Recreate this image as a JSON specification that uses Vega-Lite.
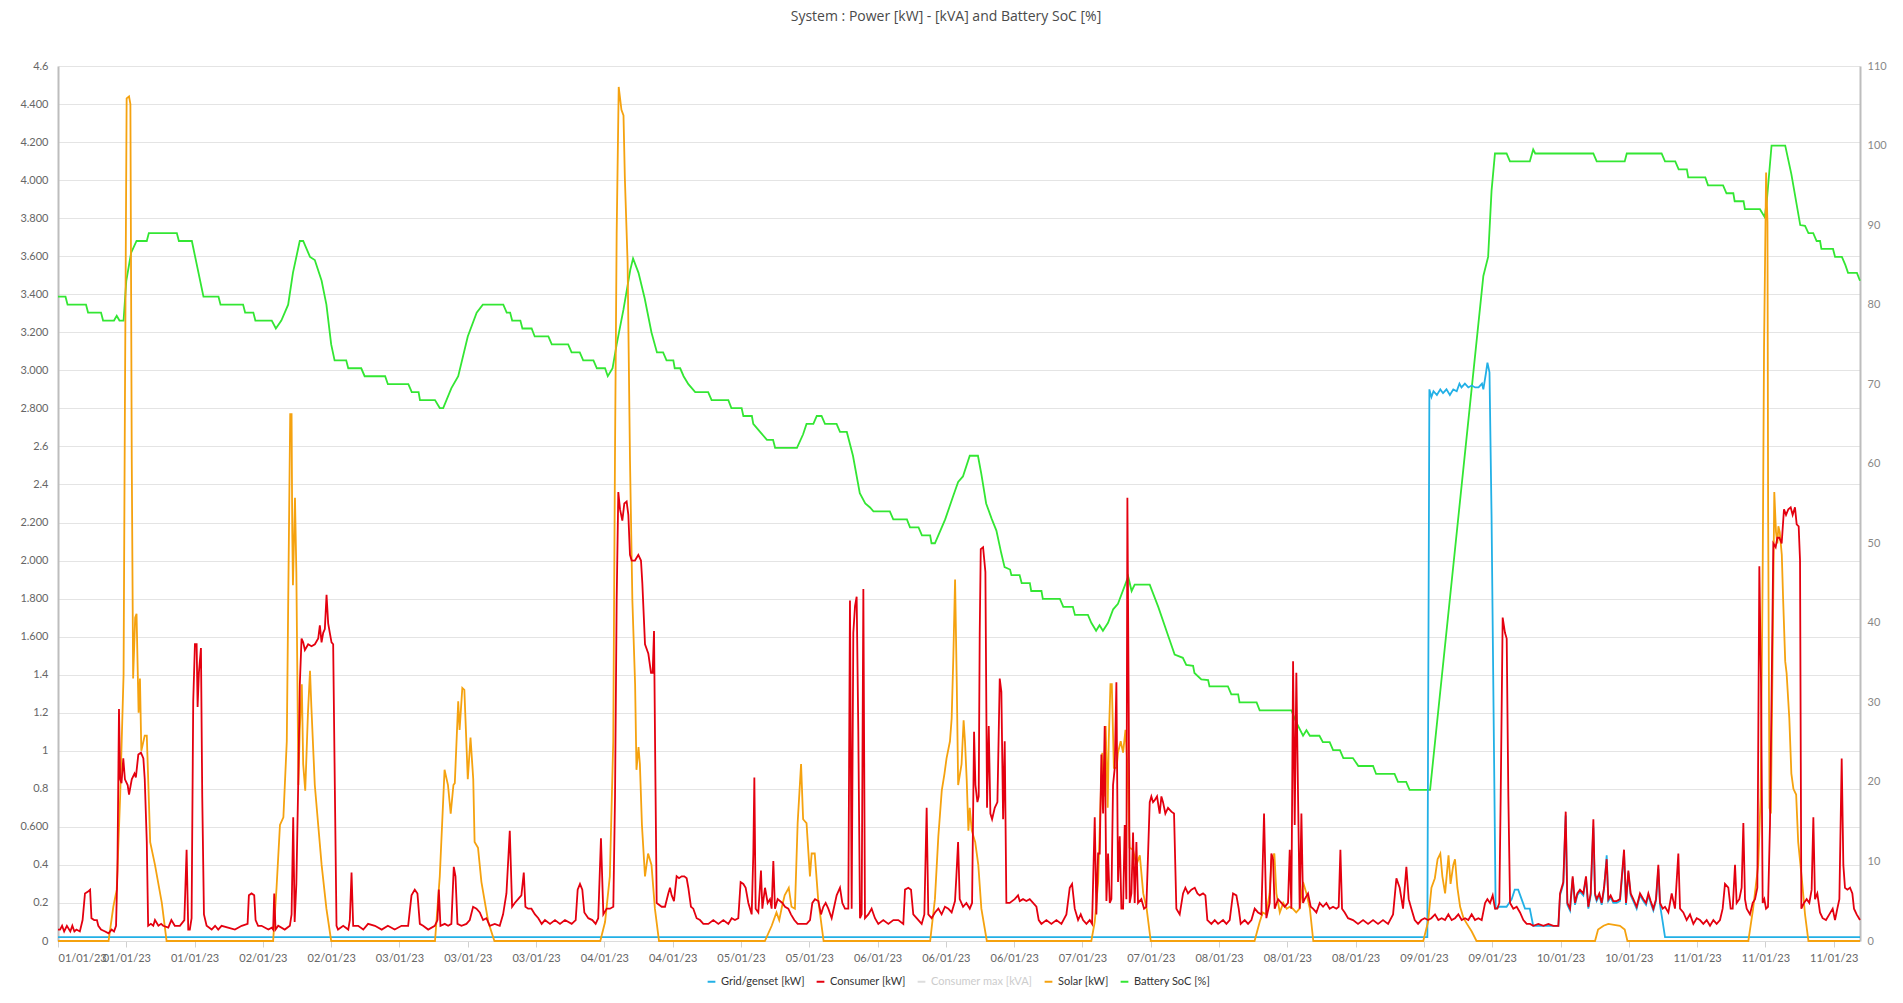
{
  "$schema": "https://vega.github.io/schema/vega-lite/v6.json",
  "width": 1802,
  "height": 875,
  "autosize": {"type": "none"},
  "padding": {"left": 58, "top": 66, "right": 43, "bottom": 62},
  "background": "white",
  "title": {
    "text": "System : Power [kW] - [kVA] and Battery SoC [%]",
    "font": "Open Sans",
    "fontSize": 14,
    "fontWeight": "normal",
    "color": "#4a4a4a",
    "anchor": "middle",
    "frame": "group",
    "baseline": "alphabetic",
    "offset": 25,
    "dx": -13
  },
  "config": {
    "view": {"stroke": null},
    "axis": {"labelFont": "Lato", "labelFontSize": 11, "labelColor": "#666666", "title": null}
  },
  "datasets": {
    "soc": [
      {"t":0,"v":81},{"t":1.1,"v":81},{"t":1.4,"v":80},{"t":4.1,"v":80},{"t":4.4,"v":79},{"t":6.3,"v":79},{"t":6.6,"v":78},{"t":8.2,"v":78},{"t":8.6,"v":78.6},{"t":9.0,"v":78},{"t":9.6,"v":78},{"t":10.0,"v":83},{"t":10.7,"v":86.5},{"t":11.5,"v":88},{"t":13.0,"v":88},{"t":13.3,"v":89},{"t":17.4,"v":89},{"t":17.7,"v":88},{"t":19.6,"v":88},{"t":21.3,"v":81},{"t":23.5,"v":81},{"t":23.8,"v":80},{"t":27.1,"v":80},{"t":27.4,"v":79},{"t":28.6,"v":79},{"t":28.9,"v":78},{"t":31.3,"v":78},{"t":31.9,"v":77},{"t":32.7,"v":78},{"t":33.7,"v":80},{"t":34.4,"v":84},{"t":35.4,"v":88},{"t":35.9,"v":88},{"t":36.9,"v":86},{"t":37.6,"v":85.6},{"t":38.6,"v":83},{"t":39.3,"v":80},{"t":40.0,"v":75},{"t":40.5,"v":73},{"t":42.2,"v":73},{"t":42.5,"v":72},{"t":44.4,"v":72},{"t":44.9,"v":71},{"t":47.9,"v":71},{"t":48.3,"v":70},{"t":51.3,"v":70},{"t":51.8,"v":69},{"t":52.8,"v":69},{"t":53.0,"v":68},{"t":55.2,"v":68},{"t":55.9,"v":67},{"t":56.4,"v":67},{"t":57.6,"v":69.5},{"t":58.6,"v":71},{"t":60.0,"v":76},{"t":61.3,"v":79},{"t":62.2,"v":80},{"t":65.2,"v":80},{"t":65.7,"v":79},{"t":66.2,"v":79},{"t":66.5,"v":78},{"t":67.7,"v":78},{"t":68.0,"v":77},{"t":69.35,"v":77},{"t":69.8,"v":76},{"t":71.8,"v":76},{"t":72.3,"v":75},{"t":74.7,"v":75},{"t":75.2,"v":74},{"t":76.4,"v":74},{"t":76.9,"v":73},{"t":78.4,"v":73},{"t":78.9,"v":72},{"t":80.1,"v":72},{"t":80.5,"v":71},{"t":81.2,"v":72},{"t":81.8,"v":75},{"t":82.8,"v":79.4},{"t":83.8,"v":84.4},{"t":84.2,"v":85.8},{"t":85.0,"v":84},{"t":85.9,"v":80.8},{"t":86.9,"v":76.5},{"t":87.7,"v":74},{"t":88.6,"v":74},{"t":89.1,"v":73},{"t":90.1,"v":73},{"t":90.3,"v":72},{"t":91.1,"v":72},{"t":91.6,"v":71},{"t":92.3,"v":70},{"t":93.3,"v":69},{"t":95.2,"v":69},{"t":95.7,"v":68},{"t":98.15,"v":68},{"t":98.6,"v":67},{"t":100.1,"v":67},{"t":100.35,"v":66},{"t":101.6,"v":66},{"t":101.8,"v":65},{"t":102.8,"v":64},{"t":103.8,"v":63},{"t":104.7,"v":63},{"t":105.0,"v":62},{"t":108.2,"v":62},{"t":109.1,"v":63.7},{"t":109.6,"v":65},{"t":110.6,"v":65},{"t":111.1,"v":66},{"t":111.8,"v":66},{"t":112.3,"v":65},{"t":114.0,"v":65},{"t":114.5,"v":64},{"t":115.5,"v":64},{"t":116.4,"v":61},{"t":117.4,"v":56.3},{"t":118.2,"v":55},{"t":118.9,"v":54.5},{"t":119.4,"v":54},{"t":121.8,"v":54},{"t":122.3,"v":53},{"t":124.3,"v":53},{"t":124.75,"v":52},{"t":126.0,"v":52},{"t":126.5,"v":51},{"t":127.7,"v":51},{"t":127.9,"v":50},{"t":128.4,"v":50},{"t":128.9,"v":51},{"t":129.9,"v":53},{"t":131.1,"v":56},{"t":131.8,"v":57.7},{"t":132.5,"v":58.4},{"t":133.5,"v":61},{"t":134.7,"v":61},{"t":135.2,"v":58.7},{"t":135.9,"v":55},{"t":136.7,"v":53.1},{"t":137.4,"v":51.6},{"t":138.1,"v":48.8},{"t":138.6,"v":47},{"t":139.4,"v":46.7},{"t":139.6,"v":46},{"t":140.8,"v":46},{"t":141.1,"v":45},{"t":142.3,"v":45},{"t":142.5,"v":44},{"t":144.0,"v":44},{"t":144.2,"v":43},{"t":146.7,"v":43},{"t":147.2,"v":42},{"t":148.6,"v":42},{"t":148.9,"v":41},{"t":150.8,"v":41},{"t":151.3,"v":40},{"t":152.0,"v":39},{"t":152.5,"v":39.7},{"t":153.0,"v":39},{"t":153.75,"v":40},{"t":154.5,"v":41.7},{"t":155.2,"v":42.4},{"t":156.7,"v":45.8},{"t":157.2,"v":44},{"t":157.65,"v":44.8},{"t":159.85,"v":44.8},{"t":161.1,"v":42},{"t":162.5,"v":38.5},{"t":163.5,"v":36},{"t":164.7,"v":35.6},{"t":165.2,"v":34.7},{"t":166.2,"v":34.6},{"t":166.4,"v":33.7},{"t":167.4,"v":32.9},{"t":168.4,"v":32.8},{"t":168.6,"v":32},{"t":171.3,"v":32},{"t":171.8,"v":31},{"t":172.8,"v":31},{"t":173.0,"v":30},{"t":175.5,"v":30},{"t":175.95,"v":29},{"t":180.6,"v":29},{"t":181.3,"v":27.5},{"t":182.3,"v":25.8},{"t":182.8,"v":26.5},{"t":183.3,"v":25.8},{"t":184.7,"v":25.8},{"t":185.2,"v":25},{"t":186.2,"v":25},{"t":186.7,"v":24},{"t":187.7,"v":24},{"t":188.2,"v":23},{"t":189.6,"v":23},{"t":190.4,"v":22},{"t":192.55,"v":22},{"t":193.0,"v":21},{"t":195.7,"v":21},{"t":196.2,"v":20},{"t":197.4,"v":20},{"t":197.9,"v":19},{"t":200.9,"v":19},{"t":208.7,"v":83.6},{"t":209.4,"v":86},{"t":209.9,"v":94.3},{"t":210.4,"v":99},{"t":212.1,"v":99},{"t":212.6,"v":98},{"t":215.5,"v":98},{"t":216.0,"v":99.5},{"t":216.3,"v":99},{"t":224.8,"v":99},{"t":225.3,"v":98},{"t":229.4,"v":98},{"t":229.7,"v":99},{"t":234.8,"v":99},{"t":235.3,"v":98},{"t":236.8,"v":98},{"t":237.3,"v":97},{"t":238.5,"v":97},{"t":238.7,"v":96},{"t":241.2,"v":96},{"t":241.6,"v":95},{"t":243.8,"v":95},{"t":244.3,"v":94},{"t":245.3,"v":94},{"t":245.5,"v":93},{"t":246.8,"v":93},{"t":247.0,"v":92},{"t":249.2,"v":92},{"t":249.9,"v":91},{"t":250.2,"v":93},{"t":250.9,"v":100},{"t":252.9,"v":100},{"t":253.8,"v":96.4},{"t":255.1,"v":90},{"t":255.8,"v":89.9},{"t":256.3,"v":89},{"t":257.0,"v":89},{"t":257.5,"v":88},{"t":258.0,"v":88},{"t":258.2,"v":87},{"t":259.9,"v":87},{"t":260.2,"v":86},{"t":261.2,"v":86},{"t":261.7,"v":85},{"t":262.1,"v":84},{"t":263.4,"v":84},{"t":263.85,"v":83}
    ],
    "grid": [
      {"t":0,"v":0.02},{"t":200.5,"v":0.02},{"t":200.8,"v":2.9},{"t":201.1,"v":2.86},{"t":201.4,"v":2.89},{"t":201.9,"v":2.87},{"t":202.4,"v":2.9},{"t":202.8,"v":2.88},{"t":203.3,"v":2.9},{"t":203.8,"v":2.87},{"t":204.3,"v":2.9},{"t":204.8,"v":2.89},{"t":205.2,"v":2.93},{"t":205.5,"v":2.91},{"t":206.0,"v":2.93},{"t":206.5,"v":2.91},{"t":207.0,"v":2.92},{"t":207.5,"v":2.91},{"t":208.0,"v":2.91},{"t":208.5,"v":2.93},{"t":208.7,"v":2.9},{"t":209.1,"v":2.99},{"t":209.3,"v":3.04},{"t":209.6,"v":2.99},{"t":209.9,"v":2.24},{"t":210.2,"v":1.2},{"t":210.5,"v":0.17},{"t":211.1,"v":0.18},{"t":212.1,"v":0.18},{"t":212.85,"v":0.22},{"t":213.3,"v":0.27},{"t":213.8,"v":0.27},{"t":214.3,"v":0.22},{"t":214.8,"v":0.17},{"t":215.5,"v":0.17},{"t":216.0,"v":0.08},{"t":219.7,"v":0.08},{"t":219.93,"v":0.24},{"t":220.41,"v":0.3},{"t":220.76,"v":0.66},{"t":221.0,"v":0.19},{"t":221.39,"v":0.16},{"t":221.78,"v":0.33},{"t":222.12,"v":0.19},{"t":222.46,"v":0.24},{"t":222.85,"v":0.26},{"t":223.34,"v":0.24},{"t":223.73,"v":0.33},{"t":224.07,"v":0.17},{"t":224.42,"v":0.24},{"t":224.81,"v":0.6},{"t":225.05,"v":0.24},{"t":225.29,"v":0.21},{"t":225.68,"v":0.24},{"t":226.03,"v":0.19},{"t":226.37,"v":0.27},{"t":226.76,"v":0.45},{"t":227.0,"v":0.21},{"t":227.34,"v":0.23},{"t":227.73,"v":0.2},{"t":228.22,"v":0.2},{"t":228.71,"v":0.21},{"t":229.3,"v":0.46},{"t":229.59,"v":0.19},{"t":229.93,"v":0.36},{"t":230.27,"v":0.24},{"t":230.66,"v":0.21},{"t":231.15,"v":0.17},{"t":231.64,"v":0.24},{"t":232.13,"v":0.21},{"t":232.52,"v":0.19},{"t":232.86,"v":0.24},{"t":233.2,"v":0.2},{"t":233.59,"v":0.16},{"t":233.98,"v":0.21},{"t":234.32,"v":0.38},{"t":234.57,"v":0.19},{"t":234.96,"v":0.1},{"t":235.3,"v":0.02},{"t":263.85,"v":0.02}
    ],
    "solar": [
      {"t":0,"v":0},{"t":7.4,"v":0},{"t":8.1,"v":0.18},{"t":8.6,"v":0.27},{"t":9.1,"v":0.76},{"t":9.6,"v":1.4},{"t":9.8,"v":2.83},{"t":10.05,"v":4.43},{"t":10.4,"v":4.44},{"t":10.6,"v":4.4},{"t":10.8,"v":2.53},{"t":11.0,"v":1.38},{"t":11.3,"v":1.7},{"t":11.5,"v":1.72},{"t":11.8,"v":1.2},{"t":12.0,"v":1.38},{"t":12.2,"v":1.0},{"t":12.7,"v":1.08},{"t":13.0,"v":1.08},{"t":13.5,"v":0.52},{"t":14.2,"v":0.4},{"t":15.2,"v":0.2},{"t":15.9,"v":0},{"t":31.5,"v":0},{"t":32.0,"v":0.28},{"t":32.5,"v":0.61},{"t":33.0,"v":0.65},{"t":33.5,"v":1.05},{"t":33.7,"v":1.76},{"t":34.0,"v":2.77},{"t":34.2,"v":2.77},{"t":34.3,"v":2.15},{"t":34.4,"v":1.87},{"t":34.7,"v":2.33},{"t":34.9,"v":1.94},{"t":35.2,"v":0.82},{"t":35.4,"v":1.11},{"t":35.7,"v":1.35},{"t":35.9,"v":0.93},{"t":36.2,"v":0.79},{"t":36.6,"v":1.2},{"t":36.9,"v":1.42},{"t":37.1,"v":1.23},{"t":37.6,"v":0.82},{"t":38.1,"v":0.61},{"t":38.6,"v":0.4},{"t":39.3,"v":0.17},{"t":40.0,"v":0},{"t":55.2,"v":0},{"t":55.9,"v":0.34},{"t":56.6,"v":0.9},{"t":57.1,"v":0.82},{"t":57.5,"v":0.67},{"t":57.9,"v":0.82},{"t":58.1,"v":0.83},{"t":58.6,"v":1.26},{"t":58.8,"v":1.11},{"t":59.2,"v":1.33},{"t":59.5,"v":1.32},{"t":60.0,"v":0.85},{"t":60.4,"v":1.07},{"t":60.8,"v":0.85},{"t":61.0,"v":0.52},{"t":61.5,"v":0.49},{"t":62.0,"v":0.31},{"t":63.0,"v":0.1},{"t":63.9,"v":0},{"t":79.4,"v":0},{"t":80.1,"v":0.1},{"t":80.8,"v":0.34},{"t":81.3,"v":1.05},{"t":81.55,"v":2.53},{"t":81.8,"v":3.72},{"t":82.1,"v":4.49},{"t":82.5,"v":4.37},{"t":82.8,"v":4.34},{"t":83.0,"v":4.01},{"t":83.4,"v":3.57},{"t":83.75,"v":2.53},{"t":84.1,"v":1.79},{"t":84.5,"v":1.35},{"t":84.7,"v":0.9},{"t":85.0,"v":1.02},{"t":85.2,"v":0.93},{"t":85.5,"v":0.61},{"t":85.95,"v":0.34},{"t":86.4,"v":0.46},{"t":86.9,"v":0.4},{"t":87.4,"v":0.17},{"t":88.0,"v":0},{"t":103.5,"v":0},{"t":104.5,"v":0.08},{"t":105.2,"v":0.15},{"t":105.6,"v":0.11},{"t":106.0,"v":0.18},{"t":106.4,"v":0.24},{"t":107.0,"v":0.28},{"t":107.4,"v":0.18},{"t":107.9,"v":0.17},{"t":108.3,"v":0.62},{"t":108.8,"v":0.93},{"t":109.1,"v":0.64},{"t":109.6,"v":0.62},{"t":110.1,"v":0.34},{"t":110.35,"v":0.46},{"t":110.8,"v":0.46},{"t":111.3,"v":0.22},{"t":112.1,"v":0},{"t":127.7,"v":0},{"t":128.4,"v":0.22},{"t":128.9,"v":0.55},{"t":129.4,"v":0.79},{"t":129.8,"v":0.88},{"t":130.1,"v":0.96},{"t":130.6,"v":1.05},{"t":130.85,"v":1.17},{"t":131.1,"v":1.5},{"t":131.35,"v":1.9},{"t":131.6,"v":1.35},{"t":131.8,"v":0.82},{"t":132.3,"v":0.93},{"t":132.6,"v":1.16},{"t":132.8,"v":1.05},{"t":133.05,"v":0.85},{"t":133.3,"v":0.58},{"t":133.5,"v":0.7},{"t":133.8,"v":0.58},{"t":134.3,"v":0.52},{"t":134.75,"v":0.4},{"t":135.2,"v":0.17},{"t":136.0,"v":0},{"t":151.3,"v":0},{"t":151.8,"v":0.1},{"t":152.3,"v":0.31},{"t":152.7,"v":0.79},{"t":152.9,"v":0.99},{"t":153.2,"v":0.76},{"t":153.4,"v":1.13},{"t":153.7,"v":0.7},{"t":153.85,"v":1.05},{"t":154.1,"v":1.35},{"t":154.3,"v":1.35},{"t":154.6,"v":0.91},{"t":155.0,"v":0.91},{"t":155.2,"v":0.99},{"t":155.6,"v":1.05},{"t":155.95,"v":0.99},{"t":156.3,"v":1.11},{"t":156.6,"v":0.91},{"t":156.9,"v":0.49},{"t":157.4,"v":0.48},{"t":157.9,"v":0.4},{"t":158.4,"v":0.45},{"t":158.9,"v":0.25},{"t":159.4,"v":0.17},{"t":160.0,"v":0},{"t":175.2,"v":0},{"t":175.95,"v":0.1},{"t":176.4,"v":0.15},{"t":176.9,"v":0.14},{"t":177.4,"v":0.25},{"t":177.7,"v":0.43},{"t":178.1,"v":0.46},{"t":178.4,"v":0.25},{"t":178.9,"v":0.15},{"t":179.4,"v":0.2},{"t":179.9,"v":0.17},{"t":180.35,"v":0.18},{"t":180.8,"v":0.17},{"t":181.3,"v":0.15},{"t":181.8,"v":0.17},{"t":182.3,"v":0.31},{"t":182.8,"v":0.25},{"t":183.3,"v":0.17},{"t":183.8,"v":0},{"t":199.9,"v":0},{"t":200.6,"v":0.1},{"t":201.1,"v":0.28},{"t":201.6,"v":0.33},{"t":202.0,"v":0.43},{"t":202.4,"v":0.46},{"t":202.7,"v":0.34},{"t":203.1,"v":0.25},{"t":203.6,"v":0.45},{"t":203.9,"v":0.3},{"t":204.3,"v":0.4},{"t":204.55,"v":0.43},{"t":204.9,"v":0.28},{"t":205.3,"v":0.18},{"t":205.8,"v":0.12},{"t":206.3,"v":0.09},{"t":207.0,"v":0.05},{"t":207.7,"v":0},{"t":225.05,"v":0},{"t":225.5,"v":0.06},{"t":226.3,"v":0.08},{"t":227.0,"v":0.09},{"t":228.7,"v":0.08},{"t":229.4,"v":0.06},{"t":229.8,"v":0},{"t":247.5,"v":0},{"t":248.2,"v":0.17},{"t":248.95,"v":0.4},{"t":249.3,"v":0.76},{"t":249.6,"v":1.94},{"t":249.8,"v":3.12},{"t":250.1,"v":4.04},{"t":250.3,"v":3.78},{"t":250.4,"v":2.24},{"t":250.6,"v":0.7},{"t":250.8,"v":0.67},{"t":251.1,"v":1.64},{"t":251.3,"v":2.36},{"t":251.55,"v":2.15},{"t":251.75,"v":2.09},{"t":251.9,"v":2.18},{"t":252.1,"v":2.15},{"t":252.4,"v":2.03},{"t":252.6,"v":1.79},{"t":252.9,"v":1.47},{"t":253.1,"v":1.41},{"t":253.5,"v":1.17},{"t":253.8,"v":0.88},{"t":254.1,"v":0.8},{"t":254.5,"v":0.77},{"t":254.8,"v":0.52},{"t":255.3,"v":0.34},{"t":255.8,"v":0.14},{"t":256.3,"v":0},{"t":263.85,"v":0}
    ],
    "cons": [
      {"t":0,"v":0.06},{"t":0.3,"v":0.06},{"t":0.6,"v":0.08},{"t":0.9,"v":0.05},{"t":1.3,"v":0.08},{"t":1.8,"v":0.05},{"t":2.1,"v":0.08},{"t":2.4,"v":0.05},{"t":2.7,"v":0.06},{"t":3.2,"v":0.05},{"t":3.6,"v":0.11},{"t":3.95,"v":0.25},{"t":4.4,"v":0.26},{"t":4.7,"v":0.27},{"t":4.9,"v":0.12},{"t":5.3,"v":0.11},{"t":5.7,"v":0.11},{"t":5.9,"v":0.08},{"t":6.3,"v":0.06},{"t":6.9,"v":0.05},{"t":7.4,"v":0.04},{"t":7.85,"v":0.06},{"t":8.2,"v":0.05},{"t":8.5,"v":0.08},{"t":8.7,"v":0.37},{"t":8.93,"v":1.22},{"t":9.1,"v":0.85},{"t":9.3,"v":0.83},{"t":9.56,"v":0.96},{"t":9.8,"v":0.85},{"t":10.2,"v":0.82},{"t":10.4,"v":0.77},{"t":10.8,"v":0.85},{"t":11.2,"v":0.88},{"t":11.4,"v":0.86},{"t":11.76,"v":0.98},{"t":12.15,"v":0.99},{"t":12.5,"v":0.96},{"t":12.7,"v":0.85},{"t":13.0,"v":0.52},{"t":13.2,"v":0.08},{"t":13.6,"v":0.09},{"t":13.95,"v":0.08},{"t":14.2,"v":0.11},{"t":14.7,"v":0.08},{"t":15.1,"v":0.09},{"t":15.4,"v":0.08},{"t":16.15,"v":0.07},{"t":16.6,"v":0.11},{"t":17.1,"v":0.08},{"t":17.85,"v":0.08},{"t":18.5,"v":0.11},{"t":18.83,"v":0.48},{"t":19.07,"v":0.06},{"t":19.3,"v":0.06},{"t":19.56,"v":0.12},{"t":19.8,"v":1.26},{"t":20.05,"v":1.56},{"t":20.3,"v":1.56},{"t":20.44,"v":1.23},{"t":20.63,"v":1.41},{"t":20.93,"v":1.54},{"t":21.12,"v":0.76},{"t":21.37,"v":0.14},{"t":21.76,"v":0.08},{"t":22.5,"v":0.06},{"t":23.0,"v":0.08},{"t":23.46,"v":0.06},{"t":23.95,"v":0.08},{"t":24.9,"v":0.07},{"t":25.9,"v":0.06},{"t":26.9,"v":0.08},{"t":27.76,"v":0.09},{"t":27.95,"v":0.24},{"t":28.34,"v":0.25},{"t":28.73,"v":0.24},{"t":28.93,"v":0.11},{"t":29.3,"v":0.08},{"t":29.8,"v":0.08},{"t":30.8,"v":0.06},{"t":31.3,"v":0.07},{"t":31.5,"v":0.06},{"t":31.66,"v":0.25},{"t":31.85,"v":0.06},{"t":32.24,"v":0.08},{"t":33.2,"v":0.06},{"t":33.95,"v":0.08},{"t":34.2,"v":0.14},{"t":34.44,"v":0.65},{"t":34.65,"v":0.1},{"t":34.9,"v":0.3},{"t":35.17,"v":0.82},{"t":35.41,"v":1.35},{"t":35.66,"v":1.59},{"t":35.9,"v":1.57},{"t":36.15,"v":1.53},{"t":36.63,"v":1.56},{"t":37.12,"v":1.55},{"t":37.61,"v":1.56},{"t":38.1,"v":1.59},{"t":38.34,"v":1.66},{"t":38.59,"v":1.57},{"t":38.83,"v":1.62},{"t":39.07,"v":1.64},{"t":39.32,"v":1.82},{"t":39.56,"v":1.67},{"t":39.8,"v":1.62},{"t":40.05,"v":1.57},{"t":40.29,"v":1.56},{"t":40.54,"v":0.79},{"t":40.78,"v":0.08},{"t":41.0,"v":0.06},{"t":41.76,"v":0.08},{"t":42.5,"v":0.06},{"t":42.73,"v":0.11},{"t":42.98,"v":0.36},{"t":43.22,"v":0.08},{"t":43.95,"v":0.08},{"t":44.7,"v":0.06},{"t":45.4,"v":0.09},{"t":46.4,"v":0.08},{"t":47.4,"v":0.06},{"t":48.3,"v":0.08},{"t":49.3,"v":0.06},{"t":50.3,"v":0.08},{"t":51.27,"v":0.08},{"t":51.76,"v":0.24},{"t":52.24,"v":0.27},{"t":52.63,"v":0.25},{"t":52.98,"v":0.09},{"t":53.46,"v":0.08},{"t":54.2,"v":0.06},{"t":55.17,"v":0.08},{"t":55.56,"v":0.11},{"t":55.76,"v":0.27},{"t":56.0,"v":0.08},{"t":56.63,"v":0.09},{"t":57.12,"v":0.08},{"t":57.6,"v":0.09},{"t":57.95,"v":0.39},{"t":58.2,"v":0.34},{"t":58.49,"v":0.09},{"t":59.07,"v":0.08},{"t":59.8,"v":0.09},{"t":60.29,"v":0.11},{"t":60.78,"v":0.18},{"t":61.27,"v":0.17},{"t":61.76,"v":0.15},{"t":62.24,"v":0.11},{"t":62.73,"v":0.12},{"t":63.22,"v":0.08},{"t":63.95,"v":0.09},{"t":64.68,"v":0.08},{"t":65.17,"v":0.14},{"t":65.66,"v":0.25},{"t":66.15,"v":0.58},{"t":66.49,"v":0.18},{"t":66.88,"v":0.2},{"t":67.37,"v":0.22},{"t":67.85,"v":0.24},{"t":68.2,"v":0.36},{"t":68.44,"v":0.18},{"t":68.83,"v":0.17},{"t":69.32,"v":0.17},
      {"t":69.84,"v":0.14},{"t":70.33,"v":0.12},{"t":70.82,"v":0.09},{"t":71.3,"v":0.11},{"t":72.04,"v":0.09},{"t":72.77,"v":0.11},{"t":73.5,"v":0.09},{"t":74.23,"v":0.11},{"t":75.21,"v":0.09},{"t":75.8,"v":0.11},{"t":76.09,"v":0.27},{"t":76.43,"v":0.3},{"t":76.77,"v":0.27},{"t":77.07,"v":0.15},{"t":77.65,"v":0.12},{"t":78.24,"v":0.11},{"t":78.72,"v":0.09},{"t":79.1,"v":0.12},{"t":79.5,"v":0.54},{"t":79.85,"v":0.14},{"t":80.34,"v":0.17},{"t":80.82,"v":0.17},{"t":81.31,"v":0.18},{"t":81.56,"v":0.76},{"t":81.8,"v":1.79},{"t":82.04,"v":2.36},{"t":82.29,"v":2.27},{"t":82.63,"v":2.21},{"t":82.92,"v":2.3},{"t":83.26,"v":2.31},{"t":83.51,"v":2.24},{"t":83.75,"v":2.03},{"t":84.0,"v":2.0},{"t":84.48,"v":2.0},{"t":84.97,"v":2.03},{"t":85.36,"v":2.0},{"t":85.56,"v":1.88},{"t":85.95,"v":1.56},{"t":86.44,"v":1.51},{"t":86.83,"v":1.41},{"t":87.07,"v":1.41},{"t":87.27,"v":1.63},{"t":87.46,"v":0.9},{"t":87.66,"v":0.2},{"t":88.39,"v":0.18},{"t":88.88,"v":0.18},{"t":89.36,"v":0.25},{"t":89.61,"v":0.28},{"t":89.85,"v":0.24},{"t":90.19,"v":0.21},{"t":90.58,"v":0.34},{"t":90.93,"v":0.33},{"t":91.32,"v":0.34},{"t":91.71,"v":0.34},{"t":92.05,"v":0.33},{"t":92.29,"v":0.28},{"t":92.68,"v":0.18},{"t":93.02,"v":0.17},{"t":93.51,"v":0.12},{"t":94.0,"v":0.11},{"t":94.49,"v":0.09},{"t":95.22,"v":0.09},{"t":95.95,"v":0.11},{"t":96.69,"v":0.09},{"t":97.42,"v":0.11},{"t":98.15,"v":0.09},{"t":98.64,"v":0.12},{"t":99.12,"v":0.11},{"t":99.61,"v":0.12},{"t":99.95,"v":0.31},{"t":100.35,"v":0.3},{"t":100.69,"v":0.28},{"t":101.08,"v":0.2},{"t":101.57,"v":0.14},{"t":101.81,"v":0.46},{"t":101.96,"v":0.86},{"t":102.15,"v":0.17},{"t":102.54,"v":0.15},{"t":102.93,"v":0.37},{"t":103.13,"v":0.17},{"t":103.52,"v":0.28},{"t":103.91,"v":0.2},{"t":104.25,"v":0.22},{"t":104.49,"v":0.17},{"t":104.74,"v":0.42},{"t":104.98,"v":0.17},{"t":105.37,"v":0.22},{"t":105.71,"v":0.21},{"t":106.06,"v":0.2},{"t":106.45,"v":0.18},{"t":106.93,"v":0.17},{"t":107.32,"v":0.14},{"t":107.81,"v":0.11},{"t":108.3,"v":0.09},{"t":108.89,"v":0.09},{"t":109.62,"v":0.09},{"t":110.11,"v":0.11},{"t":110.45,"v":0.2},{"t":110.84,"v":0.22},{"t":111.33,"v":0.21},{"t":111.72,"v":0.14},{"t":112.06,"v":0.18},{"t":112.4,"v":0.2},{"t":112.79,"v":0.17},{"t":113.28,"v":0.12},{"t":114.01,"v":0.24},{"t":114.5,"v":0.28},{"t":114.84,"v":0.2},{"t":115.23,"v":0.17},{"t":115.72,"v":0.17},{"t":115.96,"v":1.79},{"t":116.21,"v":0.17},{"t":116.45,"v":1.62},{"t":116.7,"v":1.76},{"t":116.94,"v":1.81},{"t":117.18,"v":1.11},{"t":117.43,"v":0.12},{"t":117.67,"v":0.14},{"t":117.92,"v":1.85},{"t":118.16,"v":0.12},{"t":118.65,"v":0.14},{"t":119.13,"v":0.17},{"t":119.62,"v":0.12},{"t":120.11,"v":0.09},{"t":120.84,"v":0.11},{"t":121.58,"v":0.09},{"t":122.31,"v":0.11},{"t":123.04,"v":0.11},{"t":123.77,"v":0.09},{"t":124.02,"v":0.27},{"t":124.5,"v":0.28},{"t":124.9,"v":0.27},{"t":125.23,"v":0.14},{"t":125.72,"v":0.12},{"t":126.46,"v":0.09},{"t":126.85,"v":0.14},{"t":127.19,"v":0.7},{"t":127.43,"v":0.14},{"t":127.92,"v":0.12},{"t":128.41,"v":0.15},{"t":128.9,"v":0.17},{"t":129.38,"v":0.14},{"t":129.87,"v":0.18},{"t":130.36,"v":0.17},{"t":130.85,"v":0.15},{"t":131.34,"v":0.21},
      {"t":131.54,"v":0.34},{"t":131.79,"v":0.52},{"t":132.03,"v":0.22},{"t":132.52,"v":0.18},{"t":133.01,"v":0.2},{"t":133.5,"v":0.17},{"t":133.84,"v":0.2},{"t":134.13,"v":1.1},{"t":134.33,"v":0.82},{"t":134.62,"v":0.73},{"t":134.81,"v":0.76},{"t":134.96,"v":1.62},{"t":135.11,"v":2.06},{"t":135.45,"v":2.07},{"t":135.79,"v":1.94},{"t":136.03,"v":0.7},{"t":136.28,"v":1.13},{"t":136.52,"v":0.67},{"t":136.77,"v":0.64},{"t":137.16,"v":0.7},{"t":137.55,"v":0.73},{"t":137.89,"v":1.38},{"t":138.13,"v":1.31},{"t":138.38,"v":0.64},{"t":138.62,"v":1.05},{"t":138.86,"v":0.2},{"t":139.35,"v":0.2},{"t":140.08,"v":0.22},{"t":140.57,"v":0.24},{"t":140.82,"v":0.21},{"t":141.3,"v":0.22},{"t":141.79,"v":0.21},{"t":142.28,"v":0.22},{"t":142.77,"v":0.2},{"t":143.26,"v":0.18},{"t":143.6,"v":0.11},{"t":143.99,"v":0.09},{"t":144.72,"v":0.11},{"t":145.45,"v":0.09},{"t":146.19,"v":0.11},{"t":146.92,"v":0.09},{"t":147.65,"v":0.14},{"t":148.14,"v":0.28},{"t":148.48,"v":0.3},{"t":148.87,"v":0.17},{"t":149.36,"v":0.11},{"t":149.75,"v":0.14},{"t":150.09,"v":0.11},{"t":150.58,"v":0.09},{"t":151.07,"v":0.11},{"t":151.41,"v":0.09},{"t":151.8,"v":0.65},{"t":152.04,"v":0.14},{"t":152.29,"v":0.46},{"t":152.53,"v":0.46},{"t":152.77,"v":0.98},{"t":153.02,"v":0.67},{"t":153.26,"v":1.13},{"t":153.51,"v":0.21},{"t":153.75,"v":0.46},{"t":154.0,"v":0.2},{"t":154.24,"v":0.22},{"t":154.48,"v":0.82},{"t":154.73,"v":0.91},{"t":154.97,"v":1.36},{"t":155.21,"v":0.31},{"t":155.46,"v":0.55},{"t":155.7,"v":0.17},{"t":155.95,"v":0.17},{"t":156.19,"v":0.61},{"t":156.43,"v":0.22},{"t":156.58,"v":2.33},{"t":156.78,"v":1.2},{"t":156.92,"v":0.2},{"t":157.17,"v":0.25},{"t":157.41,"v":0.57},{"t":157.65,"v":0.2},{"t":157.9,"v":0.52},{"t":158.14,"v":0.2},{"t":158.63,"v":0.22},{"t":159.02,"v":0.17},{"t":159.36,"v":0.18},{"t":159.61,"v":0.46},{"t":159.85,"v":0.73},{"t":160.09,"v":0.76},{"t":160.34,"v":0.73},{"t":160.58,"v":0.74},{"t":160.92,"v":0.76},{"t":161.31,"v":0.67},{"t":161.56,"v":0.76},{"t":161.8,"v":0.73},{"t":162.14,"v":0.67},{"t":162.53,"v":0.7},{"t":163.02,"v":0.68},{"t":163.41,"v":0.67},{"t":163.75,"v":0.17},{"t":164.24,"v":0.14},{"t":164.73,"v":0.25},{"t":165.07,"v":0.28},{"t":165.46,"v":0.25},{"t":165.95,"v":0.27},{"t":166.44,"v":0.28},{"t":166.83,"v":0.25},{"t":167.17,"v":0.24},{"t":167.66,"v":0.25},{"t":168.0,"v":0.24},{"t":168.29,"v":0.11},{"t":168.88,"v":0.09},{"t":169.37,"v":0.11},{"t":169.86,"v":0.09},{"t":170.59,"v":0.11},{"t":171.08,"v":0.09},{"t":171.56,"v":0.11},{"t":172.05,"v":0.25},{"t":172.54,"v":0.24},{"t":172.88,"v":0.17},{"t":173.17,"v":0.09},{"t":173.76,"v":0.11},{"t":174.25,"v":0.09},{"t":174.74,"v":0.11},{"t":175.22,"v":0.17},{"t":175.71,"v":0.15},{"t":176.2,"v":0.14},{"t":176.59,"v":0.67},{"t":176.93,"v":0.12},{"t":177.42,"v":0.2},{"t":177.66,"v":0.46},{"t":177.91,"v":0.43},{"t":178.15,"v":0.17},{"t":178.64,"v":0.22},{"t":179.13,"v":0.2},{"t":179.62,"v":0.18},{"t":180.1,"v":0.2},{"t":180.35,"v":0.48},{"t":180.59,"v":0.17},{"t":180.84,"v":1.47},{"t":181.08,"v":0.61},{"t":181.32,"v":1.41},{"t":181.57,"v":0.76},{"t":181.81,"v":0.17},{"t":182.06,"v":0.67},{"t":182.3,"v":0.2},{"t":182.54,"v":0.22},{"t":183.03,"v":0.25},{"t":183.42,"v":0.18},{"t":183.76,"v":0.17},{"t":184.25,"v":0.15},{"t":184.74,"v":0.2},{"t":185.23,"v":0.18},{"t":185.72,"v":0.2},{"t":186.2,"v":0.17},{"t":186.69,"v":0.18},{"t":187.18,"v":0.17},{"t":187.52,"v":0.18},{"t":187.77,"v":0.48},{"t":188.01,"v":0.17},{"t":188.4,"v":0.15},{"t":188.89,"v":0.12},{"t":189.62,"v":0.11},{"t":190.35,"v":0.09},{"t":191.09,"v":0.11},{"t":191.82,"v":0.09},{"t":192.55,"v":0.11},{"t":193.28,"v":0.09},{"t":194.01,"v":0.11},{"t":194.75,"v":0.09},{"t":195.48,"v":0.14},{"t":195.97,"v":0.33},{"t":196.45,"v":0.28},{"t":196.94,"v":0.17},{"t":197.43,"v":0.39},{"t":197.77,"v":0.22},{"t":198.16,"v":0.17},{"t":198.65,"v":0.11},{"t":199.14,"v":0.09},{"t":199.62,"v":0.11},{"t":200.11,"v":0.12},{"t":200.6,"v":0.11},{"t":201.09,"v":0.12},
      {"t":201.62,"v":0.14},{"t":202.11,"v":0.11},{"t":202.6,"v":0.12},{"t":203.09,"v":0.11},{"t":203.58,"v":0.14},{"t":204.06,"v":0.11},{"t":204.55,"v":0.12},{"t":205.04,"v":0.14},{"t":205.53,"v":0.11},{"t":206.02,"v":0.12},{"t":206.5,"v":0.11},{"t":206.99,"v":0.14},{"t":207.48,"v":0.11},{"t":207.97,"v":0.12},{"t":208.46,"v":0.11},{"t":208.95,"v":0.2},{"t":209.29,"v":0.22},{"t":209.68,"v":0.2},{"t":210.07,"v":0.24},{"t":210.41,"v":0.17},{"t":210.75,"v":0.17},{"t":211.04,"v":0.2},{"t":211.24,"v":0.76},{"t":211.53,"v":1.7},{"t":211.87,"v":1.62},{"t":212.12,"v":1.59},{"t":212.36,"v":0.76},{"t":212.61,"v":0.2},{"t":213.09,"v":0.17},{"t":213.58,"v":0.18},{"t":214.07,"v":0.15},{"t":214.56,"v":0.11},{"t":215.05,"v":0.09},{"t":215.53,"v":0.09},{"t":216.02,"v":0.08},{"t":216.75,"v":0.09},{"t":217.49,"v":0.08},{"t":218.22,"v":0.09},{"t":218.95,"v":0.08},{"t":219.68,"v":0.08},{"t":219.93,"v":0.25},{"t":220.41,"v":0.31},{"t":220.76,"v":0.68},{"t":221.0,"v":0.2},{"t":221.39,"v":0.17},{"t":221.78,"v":0.34},{"t":222.12,"v":0.2},{"t":222.46,"v":0.25},{"t":222.85,"v":0.27},{"t":223.34,"v":0.25},{"t":223.73,"v":0.34},{"t":224.07,"v":0.18},{"t":224.42,"v":0.25},{"t":224.81,"v":0.64},{"t":225.05,"v":0.25},{"t":225.29,"v":0.22},{"t":225.68,"v":0.25},{"t":226.03,"v":0.2},{"t":226.37,"v":0.28},{"t":226.76,"v":0.43},{"t":227.0,"v":0.22},{"t":227.34,"v":0.24},{"t":227.73,"v":0.21},{"t":228.22,"v":0.21},{"t":228.71,"v":0.22},{"t":229.3,"v":0.48},{"t":229.59,"v":0.2},{"t":229.93,"v":0.37},{"t":230.27,"v":0.25},{"t":230.66,"v":0.22},{"t":231.15,"v":0.18},{"t":231.64,"v":0.25},{"t":232.13,"v":0.22},{"t":232.52,"v":0.2},{"t":232.86,"v":0.25},{"t":233.2,"v":0.21},{"t":233.59,"v":0.17},{"t":233.98,"v":0.22},{"t":234.32,"v":0.4},{"t":234.57,"v":0.2},{"t":234.96,"v":0.17},{"t":235.3,"v":0.18},{"t":235.79,"v":0.15},{"t":236.28,"v":0.25},{"t":236.76,"v":0.17},{"t":237.25,"v":0.46},{"t":237.5,"v":0.17},{"t":237.98,"v":0.15},{"t":238.47,"v":0.11},{"t":238.96,"v":0.14},{"t":239.45,"v":0.09},{"t":239.94,"v":0.12},{"t":240.42,"v":0.11},{"t":240.91,"v":0.09},{"t":241.4,"v":0.11},{"t":241.89,"v":0.08},{"t":242.38,"v":0.11},{"t":242.86,"v":0.09},{"t":243.35,"v":0.11},{"t":243.74,"v":0.17},{"t":244.08,"v":0.3},{"t":244.57,"v":0.28},{"t":244.91,"v":0.17},{"t":245.21,"v":0.17},{"t":245.55,"v":0.4},{"t":245.79,"v":0.2},{"t":246.18,"v":0.22},{"t":246.52,"v":0.28},{"t":246.77,"v":0.62},{"t":247.01,"v":0.22},{"t":247.26,"v":0.17},{"t":247.74,"v":0.14},{"t":248.14,"v":0.2},{"t":248.48,"v":0.22},{"t":248.82,"v":0.28},{"t":249.11,"v":1.97},{"t":249.36,"v":1.35},{"t":249.6,"v":0.2},{"t":249.84,"v":0.22},{"t":250.09,"v":0.17},{"t":250.38,"v":0.18},{"t":250.67,"v":0.61},{"t":250.92,"v":1.35},{"t":251.16,"v":2.09},{"t":251.5,"v":2.07},{"t":251.75,"v":2.12},{"t":252.04,"v":2.12},{"t":252.38,"v":2.09},{"t":252.72,"v":2.27},{"t":253.02,"v":2.24},{"t":253.36,"v":2.27},{"t":253.7,"v":2.28},{"t":253.99,"v":2.24},{"t":254.33,"v":2.28},{"t":254.58,"v":2.19},{"t":254.87,"v":2.18},{"t":255.07,"v":2.0},{"t":255.26,"v":0.17},{"t":255.65,"v":0.2},{"t":256.04,"v":0.22},{"t":256.43,"v":0.2},{"t":256.77,"v":0.27},{"t":257.02,"v":0.65},{"t":257.26,"v":0.22},{"t":257.6,"v":0.25},{"t":257.99,"v":0.15},{"t":258.38,"v":0.12},{"t":258.87,"v":0.11},{"t":259.36,"v":0.14},{"t":259.85,"v":0.17},{"t":260.19,"v":0.11},{"t":260.53,"v":0.17},{"t":260.83,"v":0.22},{"t":261.17,"v":0.96},{"t":261.41,"v":0.4},{"t":261.65,"v":0.28},{"t":262.0,"v":0.27},{"t":262.39,"v":0.28},{"t":262.73,"v":0.25},{"t":262.97,"v":0.17},{"t":263.36,"v":0.14},{"t":263.85,"v":0.11}
    ]
  },
  "encoding": {
    "x": {
      "field": "t",
      "type": "quantitative",
      "scale": {"domain": [0, 263.85], "nice": false, "zero": false},
      "axis": {
        "values": [0,10,20,30,40,50,60,70,80,90,100,110,120,130,140,150,160,170,180,190,200,210,220,230,240,250,260],
        "labelExpr": "(floor(datum.value / 24) < 9 ? '0' : '') + (floor(datum.value / 24) + 1) + '/01/23'",
        "labelFlush": true,
        "labelOverlap": false,
        "grid": false,
        "ticks": true,
        "tickSize": 6,
        "tickColor": "#d0d0d0",
        "domainColor": "#dcdcdc",
        "labelPadding": 5
      }
    }
  },
  "layer": [
    {
      "data": {"name": "soc"},
      "mark": {"type": "line", "strokeWidth": 1.8},
      "encoding": {
        "y": {
          "field": "v",
          "type": "quantitative",
          "scale": {"domain": [0, 110], "nice": false},
          "axis": {
            "orient": "right",
            "values": [0,10,20,30,40,50,60,70,80,90,100,110],
            "grid": false,
            "ticks": false,
            "domainColor": "#bdbdbd",
            "domainWidth": 2,
            "labelColor": "#888888",
            "labelPadding": 7
          }
        },
        "color": {
          "datum": "Battery SoC [%]",
          "scale": {
            "domain": ["Grid/genset [kW]", "Consumer [kW]", "Consumer max [kVA]", "Solar [kW]", "Battery SoC [%]"],
            "range": ["#22b0e6", "#e4000f", "#dddddd", "#f5a20f", "#33e633"]
          },
          "legend": {
            "title": null,
            "orient": "none",
            "legendX": 648,
            "legendY": 910,
            "direction": "horizontal",
            "symbolType": "stroke",
            "symbolStrokeWidth": 2,
            "symbolSize": 60,
            "labelFont": "Lato",
            "labelFontSize": 11,
            "columnPadding": 7,
            "labelOffset": 4,
            "encode": {
              "labels": {
                "update": {
                  "fill": {"signal": "datum.label === 'Consumer max [kVA]' ? '#cccccc' : '#333333'"}
                }
              }
            }
          }
        }
      }
    },
    {
      "encoding": {
        "y": {
          "field": "v",
          "type": "quantitative",
          "scale": {"domain": [0, 4.6], "nice": false},
          "axis": {
            "orient": "left",
            "values": [0,0.2,0.4,0.6,0.8,1,1.2,1.4,1.6,1.8,2,2.2,2.4,2.6,2.8,3,3.2,3.4,3.6,3.8,4,4.2,4.4,4.6],
            "labelExpr": "indexof([6,16,18,20,22,28,30,32,34,36,38,40,42,44], round(datum.value * 10)) >= 0 ? format(datum.value, '.3f') : format(datum.value, '~g')",
            "grid": true,
            "gridColor": "#e4e4e4",
            "ticks": false,
            "domainColor": "#bdbdbd",
            "domainWidth": 2,
            "labelPadding": 10
          }
        }
      },
      "layer": [
        {
          "data": {"name": "grid"},
          "mark": {"type": "line", "strokeWidth": 1.8},
          "encoding": {"color": {"datum": "Grid/genset [kW]"}}
        },
        {
          "data": {"name": "solar"},
          "mark": {"type": "line", "strokeWidth": 1.8},
          "encoding": {"color": {"datum": "Solar [kW]"}}
        },
        {
          "data": {"name": "cons"},
          "mark": {"type": "line", "strokeWidth": 1.8},
          "encoding": {"color": {"datum": "Consumer [kW]"}}
        }
      ]
    }
  ],
  "resolve": {"scale": {"y": "independent"}, "axis": {"y": "independent"}}
}
